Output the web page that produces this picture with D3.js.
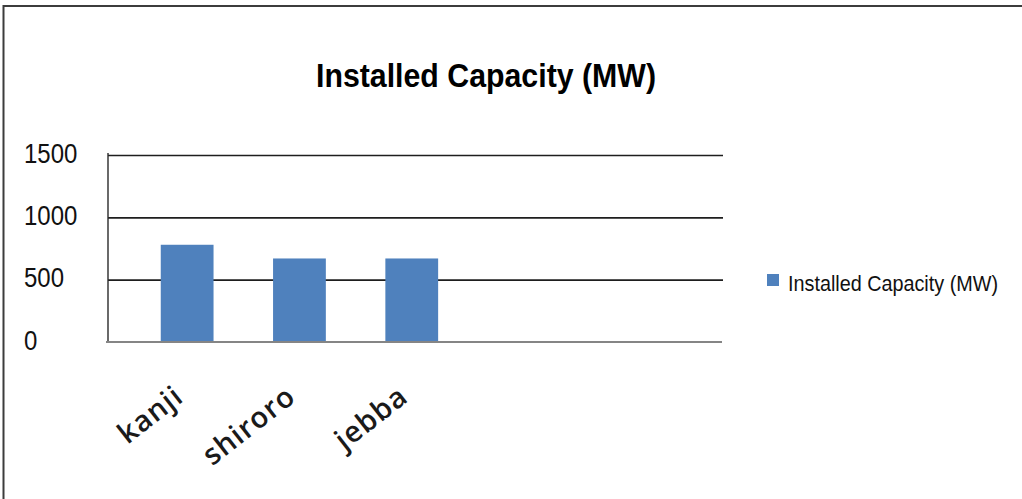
<!DOCTYPE html>
<html>
<head>
<meta charset="utf-8">
<script src="https://cdn.jsdelivr.net/npm/d3@7"></script>
<style>
  html, body { margin: 0; padding: 0; background: #fff; }
  svg { display: block; }
</style>
</head>
<body>
<svg id="chart" width="1022" height="499"></svg>
<script>
// Power stations and their installed capacity in megawatts
const stations = ["kanji", "shiroro", "jebba"];
const capacityMW = [780, 670, 670];
const yTicks = [0, 500, 1000, 1500];
const chartTitle = "Installed Capacity (MW)";
const seriesName = "Installed Capacity (MW)";

const svg = d3.select("#chart");
const W = 1022, H = 499;

// Frame around the chart area
svg.append("path")
  .attr("d", `M3.5,${H} L3.5,6 L${W},6`)
  .attr("fill", "none")
  .attr("stroke", "#3c3c3c")
  .attr("stroke-width", 2);

const plot = { left: 108, right: 723, top: 155, bottom: 342 };

const y = d3.scaleLinear().domain([0, 1500]).range([plot.bottom, plot.top]);
const x = d3.scaleBand()
  .domain(stations)
  .range([131, 131 + 112.3 * stations.length])
  .paddingInner(0.53)
  .paddingOuter(0.265);

// Horizontal gridlines with value labels
const yAxis = d3.axisLeft(y)
  .tickValues(yTicks)
  .tickSize(-(plot.right - plot.left))
  .tickFormat(d3.format("d"));

const gy = svg.append("g")
  .attr("transform", `translate(${plot.left},0)`)
  .call(yAxis);
gy.select(".domain").remove();
gy.selectAll(".tick line")
  .attr("stroke", "#1e1e1e")
  .attr("stroke-width", 1.6)
  .attr("stroke-opacity", d => d === 0 ? 0 : 1);

const labelStretch = 1.15;
gy.selectAll(".tick text")
  .attr("x", -84)
  .attr("dy", null)
  .attr("y", 7 / labelStretch)
  .attr("transform", `scale(1,${labelStretch})`)
  .attr("text-anchor", "start")
  .attr("font-family", "Liberation Sans, Arial, sans-serif")
  .attr("font-size", 24)
  .attr("fill", "#111");

// Vertical axis line
svg.append("line")
  .attr("x1", plot.left).attr("x2", plot.left)
  .attr("y1", plot.top - 2).attr("y2", plot.bottom)
  .attr("stroke", "#2a2a2a")
  .attr("stroke-width", 1.4);

// Bars
svg.append("g")
  .selectAll("rect")
  .data(stations.map((s, i) => ({ name: s, value: capacityMW[i] })))
  .join("rect")
  .attr("x", d => x(d.name))
  .attr("width", x.bandwidth())
  .attr("y", d => y(d.value))
  .attr("height", d => y(0) - y(d.value))
  .attr("fill", "#4f81bd");

// Category axis
svg.append("line")
  .attr("x1", plot.left - 2).attr("x2", plot.right - 1)
  .attr("y1", plot.bottom).attr("y2", plot.bottom)
  .attr("stroke", "#858585")
  .attr("stroke-width", 2.2);

// Rotated category labels
svg.append("g")
  .selectAll("text")
  .data(stations)
  .join("text")
  .attr("transform", d => `translate(${x(d) + x.bandwidth() / 2 - 2},400) rotate(-38)`)
  .attr("text-anchor", "end")
  .attr("font-family", "Open Sans, sans-serif")
  .attr("font-weight", 600)
  .attr("font-size", 29)
  .attr("letter-spacing", 1)
  .attr("fill", "#1a1a1a")
  .text(d => d);

// Title
svg.append("text")
  .attr("x", 316)
  .attr("y", 87 / 1.12)
  .attr("transform", "scale(1,1.12)")
  .attr("font-family", "Liberation Sans, Arial, sans-serif")
  .attr("font-weight", "bold")
  .attr("font-size", 30)
  .attr("textLength", 340)
  .attr("lengthAdjust", "spacingAndGlyphs")
  .attr("fill", "#000")
  .text(chartTitle);

// Legend
const legend = svg.append("g");
legend.append("rect")
  .attr("x", 767).attr("y", 274)
  .attr("width", 12).attr("height", 12)
  .attr("fill", "#4f81bd");
legend.append("text")
  .attr("x", 788)
  .attr("y", 291 / 1.12)
  .attr("transform", "scale(1,1.12)")
  .attr("font-family", "Liberation Sans, Arial, sans-serif")
  .attr("font-size", 20)
  .attr("textLength", 210)
  .attr("lengthAdjust", "spacingAndGlyphs")
  .attr("fill", "#111")
  .text(seriesName);
</script>
</body>
</html>
